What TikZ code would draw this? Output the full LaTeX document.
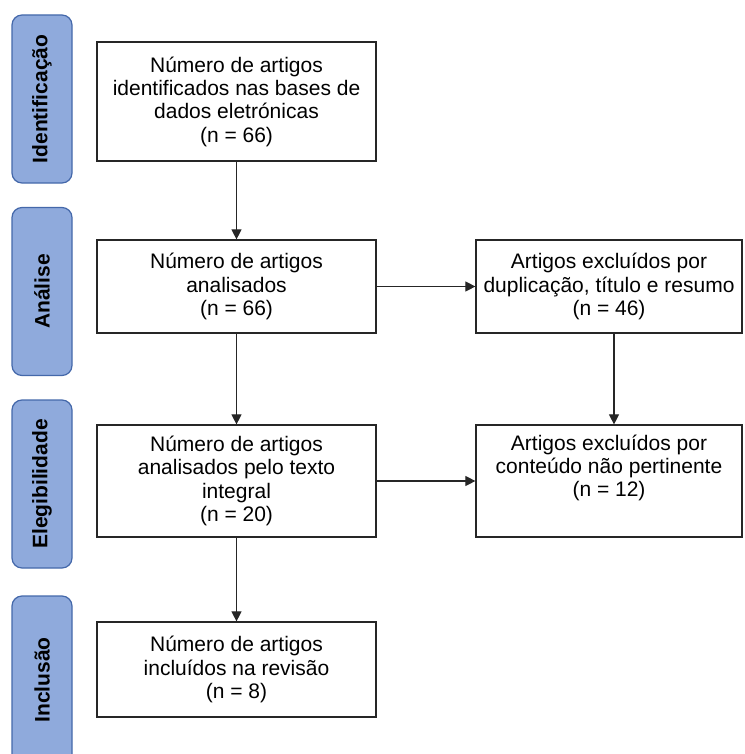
\documentclass[tikz,border=0pt]{standalone}
\usepackage{fontspec}
\setmainfont{Liberation Sans}
\usetikzlibrary{arrows.meta}
\definecolor{stagefill}{RGB}{143,170,220}
\definecolor{stageline}{RGB}{68,104,170}

\begin{document}
\begin{tikzpicture}[x=1pt, y=-1pt, >={Triangle[length=10pt,width=10pt]},
    stage/.style={rounded corners=10pt, draw=stageline, line width=1.2pt, fill=stagefill, rotate=90,
      minimum width=168pt, minimum height=60pt, inner sep=0pt, font=\fontsize{21}{23}\selectfont\bfseries},
    box/.style={rectangle, draw=black!85, line width=1.2pt, align=center, inner sep=0pt,
      font=\fontsize{21}{23.3}\selectfont},
    left box/.style={box, minimum width=279pt},
    right box/.style={box, minimum width=266pt}]
  \useasboundingbox (0,0) rectangle (744,754);
  \clip (0,0) rectangle (744,754);

  % fases
  \node[stage] (s1) at (42,99) {Identificação};
  \node[stage] (s2) at (42,291.5) {Análise};
  \node[stage] (s3) at (42,484) {Elegibilidade};
  \node[stage] (s4) at (42,680) {Inclusão};

  % caixas
  \node[left box, minimum height=119pt] (ident) at (236.5,101.5) {Número de artigos\\identificados nas bases de\\dados eletrónicas\\(n = 66)};
  \node[left box, minimum height=93pt] (anal) at (236.5,286.5) {Número de artigos\\analisados\\(n = 66)};
  \node[right box, minimum height=93pt] (excl1) at (609,286.5) {Artigos excluídos por\\duplicação, título e resumo\\(n = 46)};
  \node[left box, minimum height=112pt] (eleg) at (236.5,481) {Número de artigos\\analisados pelo texto\\integral\\(n = 20)};
  \node[right box, minimum height=112pt] (excl2) at (609,481) {Artigos excluídos por\\conteúdo não pertinente\\(n = 12)\\\strut};
  \node[left box, minimum height=95pt] (incl) at (236.5,669.5) {Número de artigos\\incluídos na revisão\\(n = 8)};

  \path[->, black!85, line width=1.1pt]
    (ident) edge (anal)
    (anal) edge (excl1)
            edge (eleg)
    (eleg) edge (excl2)
           edge (incl)
    ([xshift=5pt]excl1.south) edge ([xshift=5pt]excl2.north);
\end{tikzpicture}
\end{document}
